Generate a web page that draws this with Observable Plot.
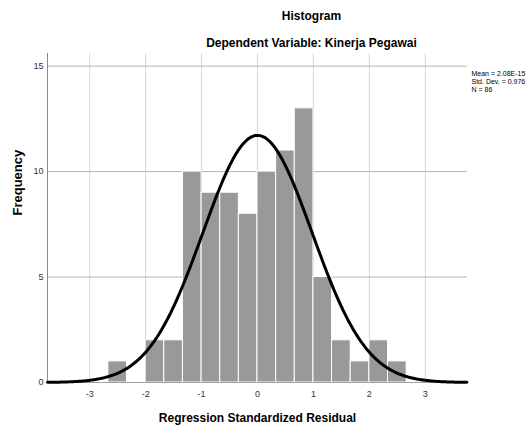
<!DOCTYPE html>
<html><head><meta charset="utf-8">
<script src="https://cdn.jsdelivr.net/npm/d3@7"></script>
<script src="https://cdn.jsdelivr.net/npm/@observablehq/plot@0.6"></script>
<style>body{margin:0;background:#fff} svg{display:block}</style>
</head><body><div id="chart"></div>
<script>
// Histogram bins (lower edges, width 1/3) and counts
const binLower = [-8/3, -7/3, -2, -5/3, -4/3, -1, -2/3, -1/3, 0, 1/3, 2/3, 1, 4/3, 5/3, 2, 7/3];
const counts   = [1, 0, 2, 2, 10, 9, 9, 8, 10, 11, 13, 5, 2, 1, 2, 1];
const binWidth = 1/3;

// Summary statistics shown in the legend
const statMean = 2.08e-15;
const statSD = 0.976;
const statN = 86;
const statLabels = ["Mean = 2.08E-15", "Std. Dev. = 0.976", "N = 86"];

const xTicks = [-3, -2, -1, 0, 1, 2, 3];
const yTicks = [0, 5, 10, 15];
const yGrid = [5, 10, 15];

const title = "Histogram";
const subtitle = "Dependent Variable: Kinerja Pegawai";
const xLabel = "Regression Standardized Residual";
const yLabel = "Frequency";

const xDomain = [-3.755, 3.755];
const yDomain = [0, 15.6];

const bins = binLower.map((lo, i) => ({x1: lo, x2: lo + binWidth, y: counts[i]}));

// Normal curve overlay defined by the legend statistics (scaled to counts)
const curve = d3.range(xDomain[0], xDomain[1] + 1e-9, 0.02).map(x => ({
  x,
  y: statN * binWidth / (statSD * Math.sqrt(2 * Math.PI)) * Math.exp(-0.5 * ((x - statMean) / statSD) ** 2)
}));

const font = "'Liberation Sans', Arial, sans-serif";

const legendMarks = statLabels.map((s, i) =>
  Plot.text([s], {frameAnchor: "top-right", textAnchor: "start", dx: 4, dy: 18 + i * 8, lineAnchor: "top", fontSize: 7, fill: "#000"})
);

const chart = Plot.plot({
  width: 531,
  height: 428,
  marginLeft: 47,
  marginRight: 64,
  marginTop: 53,
  marginBottom: 46,
  style: {fontFamily: font, background: "#fff", overflow: "visible"},
  x: {domain: xDomain},
  y: {domain: yDomain},
  marks: [
    Plot.gridX(xTicks, {stroke: "#d6d6d6", strokeOpacity: 1, strokeWidth: 1}),
    Plot.gridY(yGrid, {stroke: "#b4b4b4", strokeOpacity: 1, strokeWidth: 1}),
    Plot.rectY(bins, {x1: "x1", x2: "x2", y: "y", fill: "#999999", stroke: "#ffffff", strokeWidth: 1}),
    Plot.ruleX([xDomain[0]], {stroke: "#8a8a8a", strokeWidth: 1}),
    Plot.ruleY([0], {stroke: "#a0a0a0", strokeWidth: 1}),
    Plot.line(curve, {x: "x", y: "y", stroke: "#000", strokeWidth: 3, curve: "linear"}),
    Plot.axisX(xTicks, {tickSize: 0, tickPadding: 8, fontSize: 9, fill: "#333", label: null, tickFormat: d => String(d)}),
    Plot.axisY(yTicks, {tickSize: 0, tickPadding: 4, fontSize: 9, fill: "#333", label: null}),
    Plot.text([title], {frameAnchor: "top", dx: 54, dy: -37, lineAnchor: "middle", fontSize: 12, fontWeight: "bold", fill: "#000"}),
    Plot.text([subtitle], {frameAnchor: "top", dx: 54, dy: -10.5, lineAnchor: "middle", fontSize: 12, fontWeight: "bold", fill: "#000"}),
    Plot.text([xLabel], {frameAnchor: "bottom", dx: 0, dy: 36, lineAnchor: "middle", fontSize: 12, fontWeight: "bold", fill: "#000"}),
    Plot.text([yLabel], {frameAnchor: "left", dx: -30, dy: -2.5, rotate: -90, lineAnchor: "middle", fontSize: 13, fontWeight: "bold", fill: "#000"}),
    ...legendMarks
  ]
});
document.getElementById("chart").appendChild(chart);
</script>
</body></html>
